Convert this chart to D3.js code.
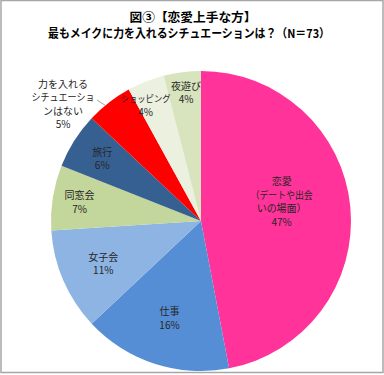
<!DOCTYPE html>
<html>
<head>
<meta charset="utf-8">
<script src="https://cdn.jsdelivr.net/npm/d3@7"></script>
<style>
  body { margin: 0; background: #fff; }
  svg { display: block; }
</style>
</head>
<body>
<div id="chart"></div>
<script>
// slices, clockwise from 12 o'clock
const categories = ["恋愛\n（デートや出会\nいの場面）", "仕事", "女子会", "同窓会", "旅行",
  "力を入れる\nシチュエーショ\nンはない", "ショッピング", "夜遊び"]
const values = [47, 16, 11, 7, 6, 5, 4, 4]
const colors = ["#FF3399", "#558ED5", "#8DB4E2", "#C3D69B", "#376092", "#FF0000", "#EBF1DE", "#D7E4BD"]
const titleLines = ["図③【恋愛上手な方】", "最もメイクに力を入れるシチュエーションは？（N＝73）"]

var width = 384;
var height = 375;
var cx = 201, cy = 221, r = 150;

var svg = d3.select("#chart").append("svg")
  .attr("width", width)
  .attr("height", height)

svg.append("rect")
  .attr("x", 1).attr("y", 0.5)
  .attr("width", 382).attr("height", 372)
  .attr("fill", "#fff")
  .attr("stroke", "#a6a6a6")
  .attr("stroke-width", 1.5)

// title, squeezed to the width the original font gives
var titleX = [193, 189], titleLen = [127, 282]
svg.selectAll(".title")
  .data(titleLines)
  .enter()
  .append("text")
  .attr("x", (d, i) => titleX[i])
  .attr("y", (d, i) => 22 + i * 16)
  .attr("text-anchor", "middle")
  .attr("textLength", (d, i) => titleLen[i])
  .attr("lengthAdjust", "spacingAndGlyphs")
  .style("font-family", "'Noto Sans CJK JP', sans-serif")
  .style("font-size", "12px")
  .style("font-weight", "bold")
  .style("fill", "#000")
  .text(d => d)

var pie = d3.pie().sort(null).value(d => d)
var arcs = pie(values)
var arc = d3.arc().innerRadius(0).outerRadius(r)

var g = svg.append("g").attr("transform", `translate(${cx},${cy})`)

g.selectAll("path")
  .data(arcs)
  .enter()
  .append("path")
  .attr("d", arc)
  .attr("fill", (d, i) => colors[i])

// label positions as fraction of radius along mid angle, plus nudges
var labelRad = [0.54, 0.68, 0.71, 0.82, 0.78, 1.2, 0.84, 0.85]
var labelDx = [0, 0, 0, 0, 0, 0, -9, 1]
var labelDy = [-12, 0, 0, 0, 0, 0, 1, -2]
// kana lines are narrower in the original proportional font
var narrow = { "ショッピング": 50, "シチュエーショ": 63, "（デートや出会": 62 }
var smallSize = { "ショッピング": 9 }

// leader line for the outside label (red slice)
var redArc = arcs[5]
var la = redArc.startAngle + (redArc.endAngle - redArc.startAngle) * 0.4
g.append("line")
  .attr("x1", Math.sin(la) * r)
  .attr("y1", -Math.cos(la) * r)
  .attr("x2", -104)
  .attr("y2", -121)
  .attr("stroke", "#8c8c8c")
  .attr("stroke-width", 0.8)

arcs.forEach((a, i) => {
  var m = (a.startAngle + a.endAngle) / 2
  var lx = Math.sin(m) * r * labelRad[i] + labelDx[i]
  var ly = -Math.cos(m) * r * labelRad[i] + labelDy[i]
  if (i == 5) { lx = -138; ly = -117 }
  var lines = categories[i].split("\n").concat([values[i] + "%"])
  lines.forEach((l, j) => {
    var t = g.append("text")
      .attr("x", lx)
      .attr("y", ly + (j - (lines.length - 1) / 2) * 13.5 + 4)
      .attr("text-anchor", "middle")
      .style("font-family", "'Noto Sans CJK JP', sans-serif")
      .style("font-size", (smallSize[l] || 10) + "px")
      .style("fill", "#262626")
      .text(l)
    if (narrow[l]) t.attr("textLength", narrow[l]).attr("lengthAdjust", "spacingAndGlyphs")
  })
})
</script>
</body>
</html>
